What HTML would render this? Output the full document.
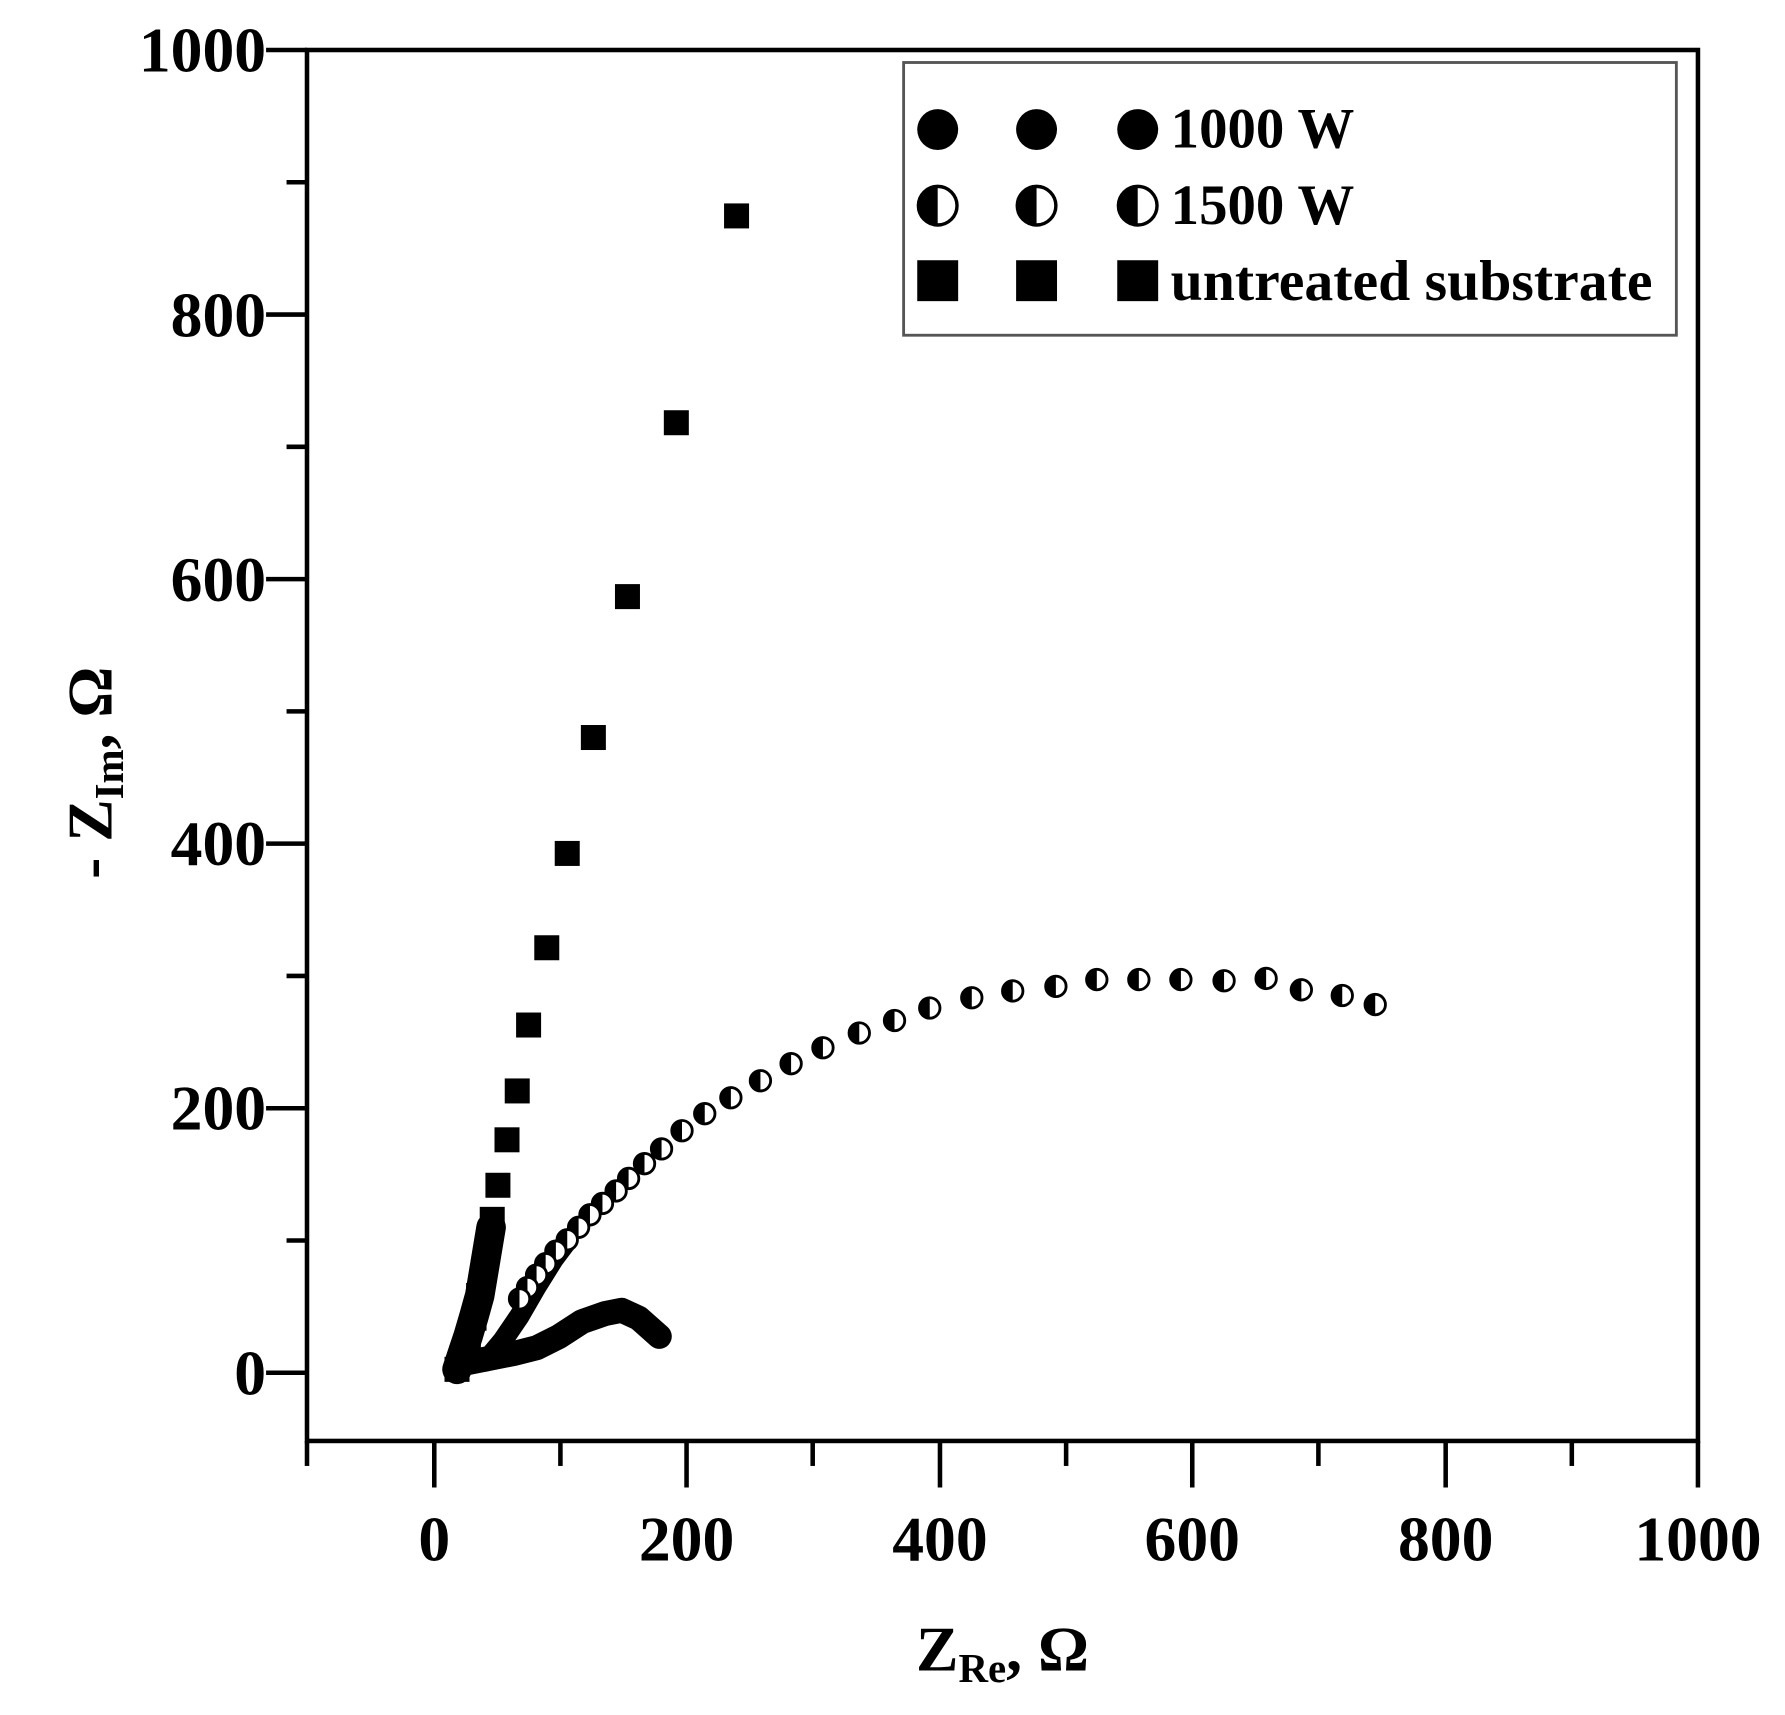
<!DOCTYPE html>
<html><head><meta charset="utf-8"><style>html,body{margin:0;padding:0;background:#fff}svg{display:block}</style></head>
<body>
<svg width="1785" height="1715" viewBox="0 0 1785 1715" xmlns="http://www.w3.org/2000/svg">
<defs>
<g id="h"><circle r="9" fill="#fff" stroke="#000" stroke-width="2.5"/><path d="M0,-9 A9,9 0 0,0 0,9 Z" fill="#000"/></g>
<g id="hl"><circle r="17" fill="#fff" stroke="#000" stroke-width="3"/><path d="M0,-17 A17,17 0 0,0 0,17 Z" fill="#000"/></g>
</defs>
<g transform="translate(307,50) scale(1.1364) translate(-268,-44)" font-family="'Liberation Serif',serif" font-weight="bold">
<rect x="268" y="44" width="1224" height="1224" fill="none" stroke="#000" stroke-width="4"/>
<g stroke="#000" stroke-width="4">
<line x1="232" y1="44" x2="268" y2="44"/><line x1="250" y1="160.4" x2="268" y2="160.4"/>
<line x1="232" y1="276.8" x2="268" y2="276.8"/><line x1="250" y1="393.2" x2="268" y2="393.2"/>
<line x1="232" y1="509.6" x2="268" y2="509.6"/><line x1="250" y1="626" x2="268" y2="626"/>
<line x1="232" y1="742.4" x2="268" y2="742.4"/><line x1="250" y1="858.8" x2="268" y2="858.8"/>
<line x1="232" y1="975.2" x2="268" y2="975.2"/><line x1="250" y1="1091.6" x2="268" y2="1091.6"/>
<line x1="232" y1="1208" x2="268" y2="1208"/>
<line x1="268" y1="1268" x2="268" y2="1290"/>
<line x1="380" y1="1268" x2="380" y2="1309"/><line x1="491" y1="1268" x2="491" y2="1290"/>
<line x1="602" y1="1268" x2="602" y2="1309"/><line x1="713" y1="1268" x2="713" y2="1290"/>
<line x1="825" y1="1268" x2="825" y2="1309"/><line x1="936" y1="1268" x2="936" y2="1290"/>
<line x1="1047" y1="1268" x2="1047" y2="1309"/><line x1="1158" y1="1268" x2="1158" y2="1290"/>
<line x1="1270" y1="1268" x2="1270" y2="1309"/><line x1="1381" y1="1268" x2="1381" y2="1290"/>
<line x1="1492" y1="1268" x2="1492" y2="1309"/>
</g>
<g font-size="56" text-anchor="end">
<text x="232" y="63">1000</text><text x="232" y="296">800</text><text x="232" y="529">600</text>
<text x="232" y="761">400</text><text x="232" y="994">200</text><text x="232" y="1227">0</text>
</g>
<g font-size="56" text-anchor="middle">
<text x="380" y="1373">0</text><text x="602" y="1373">200</text><text x="825" y="1373">400</text>
<text x="1047" y="1373">600</text><text x="1270" y="1373">800</text><text x="1492" y="1373">1000</text>
</g>
<text x="880" y="1470" font-size="56" text-anchor="middle">Z<tspan font-size="36" dy="10">Re</tspan><tspan dy="-10">, Ω</tspan></text>
<text transform="translate(96,680) rotate(-90)" font-size="56" text-anchor="middle">- Z<tspan font-size="36" dy="10">Im</tspan><tspan dy="-10">, Ω</tspan></text>
<!-- legend -->
<rect x="793" y="55" width="680" height="240" fill="#fff" stroke="#555" stroke-width="2.5"/>
<g fill="#000">
<circle cx="823" cy="114" r="18"/><circle cx="910" cy="114" r="18"/><circle cx="999" cy="114" r="18"/>
<use href="#hl" x="823" y="181"/><use href="#hl" x="910" y="181"/><use href="#hl" x="999" y="181"/>
<rect x="805" y="229" width="36" height="36"/><rect x="892" y="229" width="36" height="36"/><rect x="981" y="229" width="36" height="36"/>
</g>
<g font-size="50">
<text x="1028" y="130">1000 W</text><text x="1028" y="197">1500 W</text>
<text x="1028" y="264" textLength="424" lengthAdjust="spacingAndGlyphs">untreated substrate</text>
</g>
<!-- dense trails -->
<g fill="none" stroke="#000" stroke-linecap="round" stroke-linejoin="round">
<polyline points="400,1205 405,1190 410,1175 415,1158 420,1140 425,1110 430,1080" stroke-width="26"/>
<polyline points="405,1200 425,1196 450,1191 470,1186 490,1176 510,1163 530,1156 545,1153 560,1160 578,1176" stroke-width="22"/>
<polyline points="425,1198 440,1180 455,1158 470,1132 485,1108 497,1092" stroke-width="18"/>
</g>
<!-- squares -->
<g fill="#000">
<rect x="635" y="179" width="22" height="22"/><rect x="582" y="361" width="22" height="22"/>
<rect x="539" y="514" width="22" height="22"/><rect x="509" y="638" width="22" height="22"/>
<rect x="486" y="740" width="22" height="22"/><rect x="468" y="823" width="22" height="22"/>
<rect x="452" y="891" width="22" height="22"/><rect x="442" y="949" width="22" height="22"/>
<rect x="433" y="992" width="22" height="22"/><rect x="425" y="1032" width="22" height="22"/>
<rect x="420" y="1062" width="22" height="22"/><rect x="416" y="1087" width="22" height="22"/>
<rect x="412" y="1109" width="22" height="22"/><rect x="408" y="1129" width="22" height="22"/>
<rect x="404" y="1149" width="22" height="22"/><rect x="399" y="1167" width="22" height="22"/>
<rect x="394" y="1184" width="22" height="22"/><rect x="389" y="1194" width="22" height="22"/>
</g>
<!-- 1500 W -->
<g>
<use href="#h" x="1208" y="884"/><use href="#h" x="1179" y="876"/><use href="#h" x="1143" y="871"/>
<use href="#h" x="1112" y="861"/><use href="#h" x="1075" y="863"/><use href="#h" x="1037" y="862"/>
<use href="#h" x="1000" y="862"/><use href="#h" x="963" y="862"/><use href="#h" x="927" y="868"/>
<use href="#h" x="889" y="872"/><use href="#h" x="853" y="878"/><use href="#h" x="816" y="887"/>
<use href="#h" x="785" y="898"/><use href="#h" x="754" y="909"/><use href="#h" x="722" y="922"/>
<use href="#h" x="694" y="936"/><use href="#h" x="667" y="951"/><use href="#h" x="641" y="966"/>
<use href="#h" x="618" y="980"/><use href="#h" x="598" y="995"/><use href="#h" x="580" y="1011"/>
<use href="#h" x="565" y="1024"/><use href="#h" x="551" y="1037"/><use href="#h" x="540" y="1048"/>
<use href="#h" x="528" y="1059"/><use href="#h" x="517" y="1069"/><use href="#h" x="507" y="1080"/>
<use href="#h" x="497" y="1091"/><use href="#h" x="487" y="1101"/><use href="#h" x="478" y="1112"/>
<use href="#h" x="470" y="1122"/><use href="#h" x="462" y="1133"/><use href="#h" x="455" y="1143"/>
</g>
</g>
</svg>
</body></html>
